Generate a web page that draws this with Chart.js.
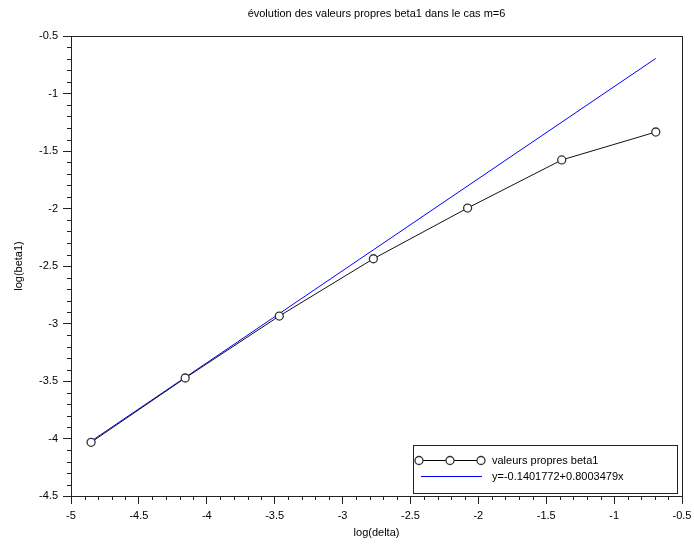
<!DOCTYPE html>
<html>
<head>
<meta charset="utf-8">
<script src="https://cdn.jsdelivr.net/npm/chart.js@4"></script>
<style>
  html, body { margin: 0; padding: 0; background: #fff; }
  #wrap { width: 694px; height: 544px; }
</style>
</head>
<body>
<div id="wrap"><canvas id="c" width="694" height="544"></canvas></div>
<script>
// ---- data ----
const chartTitle = "évolution des valeurs propres beta1 dans le cas m=6";
const xLabel = "log(delta)";
const yLabel = "log(beta1)";
const logDelta = [-4.852, -4.159, -3.466, -2.773, -2.079, -1.386, -0.693];
const logBeta1 = [-4.033, -3.474, -2.935, -2.437, -1.996, -1.578, -1.335];
const fitX = [-4.852, -0.693];
const fitY = [-4.0236, -0.6949];
const seriesNames = ["valeurs propres beta1", "y=-0.1401772+0.8003479x"];
const xMin = -5, xMax = -0.5, yMin = -4.5, yMax = -0.5;

const FONT = "'Liberation Sans', Arial, sans-serif";
const AXIS = '#222';

const decorPlugin = {
  id: 'decor',
  afterDraw(chart) {
    const ctx = chart.ctx;
    const a = chart.chartArea;
    const xs = chart.scales.x, ys = chart.scales.y;
    ctx.save();
    // box
    ctx.strokeStyle = AXIS;
    ctx.lineWidth = 1;
    ctx.strokeRect(Math.round(a.left) + 0.5, Math.round(a.top) + 0.5,
                   Math.round(a.right - a.left), Math.round(a.bottom - a.top));
    // minor ticks
    ctx.beginPath();
    for (let i = 0; i <= Math.round((xMax - xMin) * 10); i++) {
      if (i % 5 === 0) continue;
      const px = Math.round(xs.getPixelForValue(xMin + i * 0.1)) + 0.5;
      ctx.moveTo(px, a.bottom);
      ctx.lineTo(px, a.bottom + 4);
    }
    for (let i = 0; i <= Math.round((yMax - yMin) * 10); i++) {
      if (i % 5 === 0) continue;
      const py = Math.round(ys.getPixelForValue(yMin + i * 0.1)) + 0.5;
      ctx.moveTo(a.left, py);
      ctx.lineTo(a.left - 4, py);
    }
    ctx.stroke();
    // title
    ctx.fillStyle = '#000';
    ctx.font = '11px ' + FONT;
    ctx.textAlign = 'center';
    ctx.textBaseline = 'middle';
    ctx.fillText(chartTitle, (a.left + a.right) / 2, 14);
    // legend
    const lx = 413, ly = 445, lw = 264, lh = 48;
    ctx.fillStyle = '#fff';
    ctx.fillRect(lx, ly, lw, lh);
    ctx.strokeStyle = AXIS;
    ctx.strokeRect(lx + 0.5, ly + 0.5, lw, lh);
    // row 1
    const r1 = 460.5;
    ctx.strokeStyle = '#000';
    ctx.beginPath();
    ctx.moveTo(419, r1); ctx.lineTo(481, r1);
    ctx.stroke();
    [419, 450, 481].forEach(cx => {
      ctx.beginPath();
      ctx.arc(cx, r1, 4, 0, Math.PI * 2);
      ctx.fillStyle = '#fff';
      ctx.fill();
      ctx.strokeStyle = '#333';
      ctx.lineWidth = 1.3;
      ctx.stroke();
    });
    ctx.lineWidth = 1;
    ctx.fillStyle = '#000';
    ctx.textAlign = 'left';
    ctx.fillText(seriesNames[0], 492, r1);
    // row 2
    const r2 = 476.5;
    ctx.strokeStyle = '#0000ff';
    ctx.beginPath();
    ctx.moveTo(421, r2); ctx.lineTo(482, r2);
    ctx.stroke();
    ctx.fillStyle = '#000';
    ctx.fillText(seriesNames[1], 492, r2);
    ctx.restore();
  }
};

new Chart(document.getElementById('c'), {
  type: 'scatter',
  data: {
    datasets: [
      {
        label: seriesNames[0],
        data: logDelta.map((x, i) => ({ x: x, y: logBeta1[i] })),
        showLine: true,
        borderColor: '#111',
        borderWidth: 1,
        pointRadius: 4,
        pointBorderColor: '#333',
        pointBackgroundColor: '#fff',
        pointBorderWidth: 1.3
      },
      {
        label: seriesNames[1],
        data: fitX.map((x, i) => ({ x: x, y: fitY[i] })),
        showLine: true,
        borderColor: '#0000ff',
        borderWidth: 1,
        pointRadius: 0
      }
    ]
  },
  options: {
    responsive: false,
    animation: false,
    devicePixelRatio: 1,
    layout: { padding: { left: 0, top: 36, right: 12, bottom: 0 } },
    plugins: {
      legend: { display: false },
      title: { display: false },
      tooltip: { enabled: false }
    },
    scales: {
      x: {
        type: 'linear',
        min: xMin, max: xMax,
        afterFit(s) { s.height = 48; s.paddingLeft = 0; s.paddingRight = 0; },
        border: { display: true, color: AXIS, width: 1 },
        grid: { display: true, drawOnChartArea: false, drawTicks: true, tickLength: 8, tickColor: AXIS },
        ticks: {
          stepSize: 0.5, color: '#000', padding: 5, maxRotation: 0, autoSkip: false,
          font: { family: FONT, size: 11 },
          callback: v => String(Math.round(v * 10) / 10)
        },
        title: { display: true, text: xLabel, color: '#000', font: { family: FONT, size: 11 }, padding: { top: 0, bottom: 4 } }
      },
      y: {
        type: 'linear',
        min: yMin, max: yMax,
        afterFit(s) { s.width = 71; s.paddingTop = 0; s.paddingBottom = 0; },
        border: { display: true, color: AXIS, width: 1 },
        grid: { display: true, drawOnChartArea: false, drawTicks: true, tickLength: 8, tickColor: AXIS },
        ticks: {
          stepSize: 0.5, color: '#000', padding: 5, autoSkip: false,
          font: { family: FONT, size: 11 },
          callback: v => String(Math.round(v * 10) / 10)
        },
        title: { display: true, text: yLabel, color: '#000', font: { family: FONT, size: 11 }, padding: { top: 12, bottom: 0 } }
      }
    }
  },
  plugins: [decorPlugin]
});
</script>
</body>
</html>
